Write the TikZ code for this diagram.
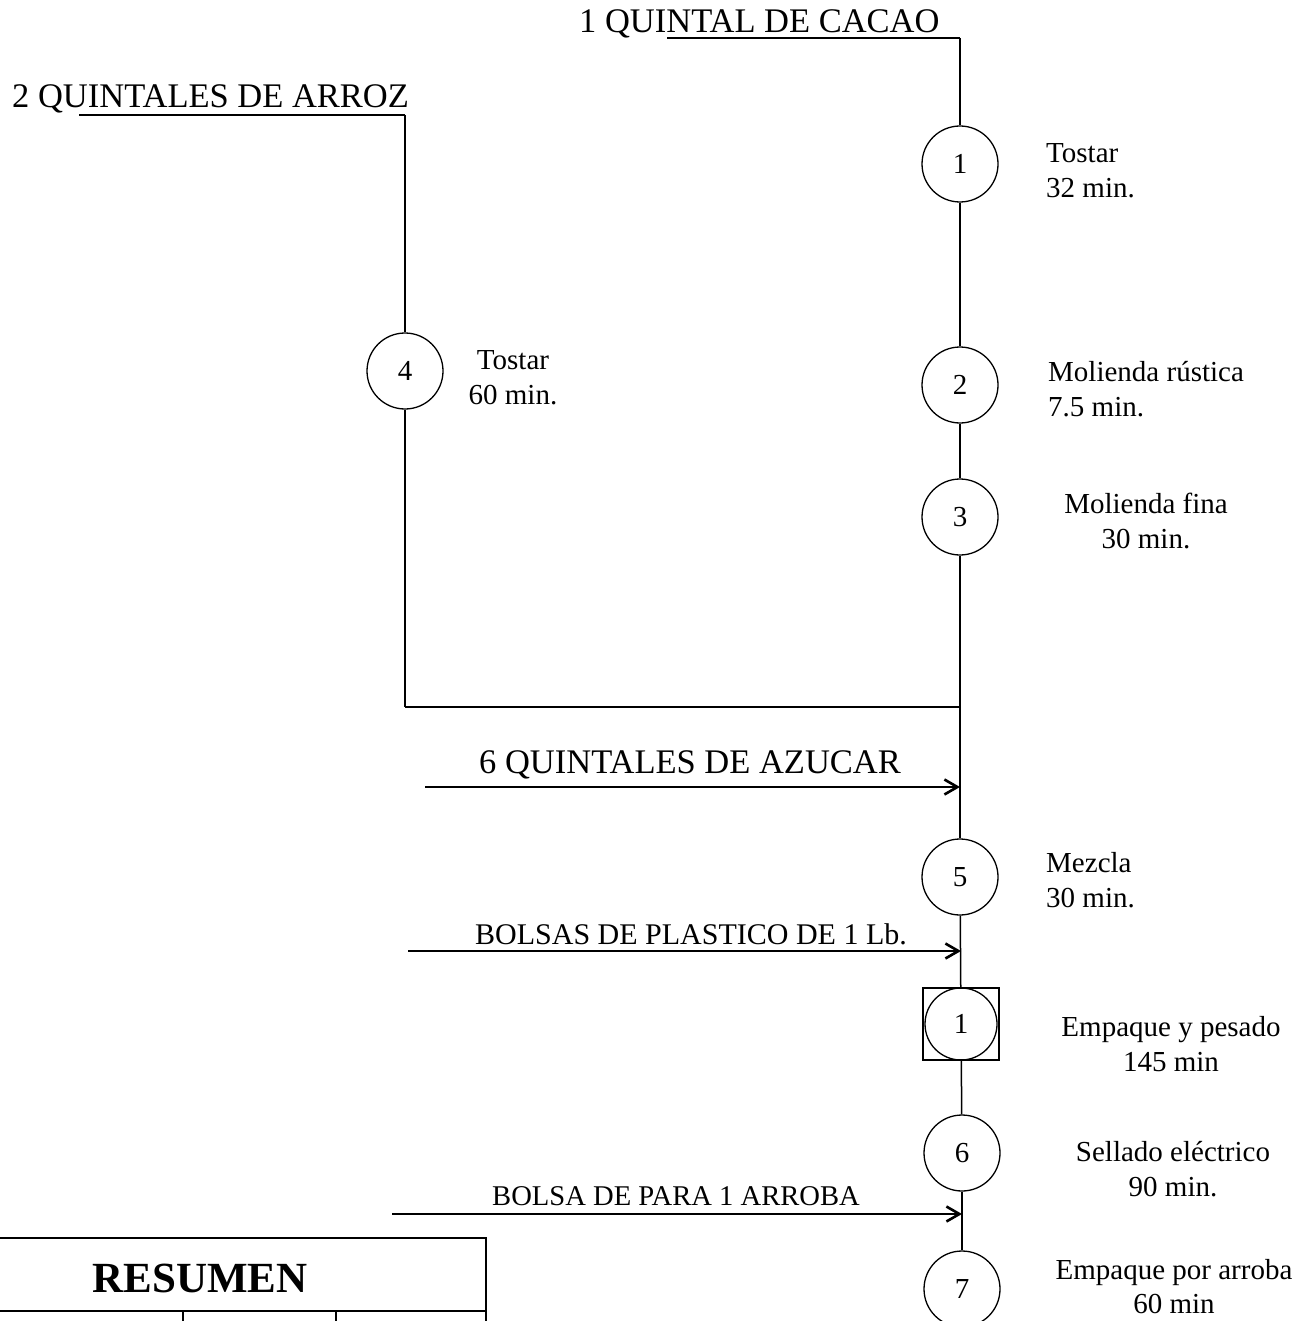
\documentclass[tikz,border=0pt]{standalone}
\usepackage{fontspec}
\setmainfont{Liberation Serif}
\usetikzlibrary{arrows.meta}
\begin{document}
\begin{tikzpicture}[x=1pt,y=-1pt,
  op/.style={circle,draw,line width=1.3pt,minimum size=76pt,inner sep=0pt,font=\fontsize{29}{29}\selectfont},
  flow/.style={line width=1.5pt},
  uline/.style={line width=1.9pt},
  feed/.style={line width=2.2pt,-{Straight Barb[length=13pt,width=15pt,line width=2.6pt]}},
  lbl/.style={inner sep=0pt,font=\fontsize{29}{35}\selectfont},
  head/.style={inner sep=0pt,font=\fontsize{34.5}{40}\selectfont},
  tbl/.style={line width=1.7pt}]
\useasboundingbox (0,0) rectangle (1309,1321);

% operations
\node[op] (c1) at (960,164) {1};
\node[op] (c2) at (960,385) {2};
\node[op] (c3) at (960,517) {3};
\node[op] (c4) at (405,371) {4};
\node[op] (c5) at (960,877) {5};
\node[draw,line width=1.3pt,minimum width=76pt,minimum height=72pt,inner sep=0pt] (sq) at (961,1024) {};
\node[op,minimum size=72pt] (i1) at (sq) {1};
\node[op] (c6) at (962,1153) {6};
\node[op] (c7) at (962,1289) {7};

% headings
\node[head,anchor=base west] (cacao) at (579,33) {1 QUINTAL DE CACAO};
\node[head,anchor=base west] (arroz) at (12,108) {2 QUINTALES DE ARROZ};
\node[head,anchor=base west] (azucar) at (479,773) {6 QUINTALES DE AZUCAR};
\node[inner sep=0pt,font=\fontsize{30}{35}\selectfont,anchor=base west] (bolsas) at (475,944) {BOLSAS DE PLASTICO DE 1 Lb.};
\node[inner sep=0pt,font=\fontsize{28.6}{35}\selectfont,anchor=base west] (bolsa) at (492,1205) {BOLSA DE PARA 1 ARROBA};

% free ends
\coordinate (cacaoU) at (667,38);
\coordinate (arrozU) at (79,115);
\coordinate (junc) at (960,707);
\coordinate (azS) at (425,787);
\coordinate (azE) at (960,787);
\coordinate (boS) at (408,951);
\coordinate (boE) at (961,951);
\coordinate (baS) at (392,1214);
\coordinate (baE) at (962,1214);

% connectors
\draw[uline] (cacaoU) -- (cacaoU -| c1);
\draw[flow] (cacaoU -| c1) -- (c1);
\draw[flow] (c1) -- (c2);
\draw[flow] (c2) -- (c3);
\draw[flow] (c3) -- (c5);
\draw[uline] (arrozU) -- (arrozU -| c4);
\draw[flow] (arrozU -| c4) -- (c4);
\draw[flow] (c4) -- (c4 |- junc);
\draw[uline] (c4 |- junc) -- (junc);
\draw[feed] (azS) -- (azE);
\draw[flow] (c5) -- (sq);
\draw[feed] (boS) -- (boE);
\draw[flow] (sq) -- (c6);
\draw[flow] (c6) -- (c7);
\draw[feed] (baS) -- (baE);

% labels
\node[lbl,anchor=north west,align=left] (l1) at (1046,143) {Tostar\\32 min.};
\node[lbl,anchor=north,align=center] (l4) at (513,350) {Tostar\\60 min.};
\node[lbl,anchor=north west,align=left] (l2) at (1048,361) {Molienda rústica\\7.5 min.};
\node[lbl,anchor=north,align=center] (l3) at (1146,493) {Molienda fina\\30 min.};
\node[lbl,anchor=north west,align=left] (l5) at (1046,852) {Mezcla\\30 min.};
\node[lbl,anchor=north,align=center] (lsq) at (1171,1016) {Empaque y pesado\\145 min};
\node[lbl,anchor=north,align=center] (l6) at (1173,1141) {Sellado eléctrico\\90 min.};
\node[lbl,anchor=north,align=center,font=\fontsize{29}{34}\selectfont] (l7) at (1174,1259) {Empaque por arroba\\60 min};

% summary table
\draw[tbl] (0,1238) -- (486,1238) -- (486,1321);
\draw[tbl] (0,1311) -- (486,1311);
\draw[tbl] (183,1311) -- (183,1321);
\draw[tbl] (336,1311) -- (336,1321);
\node[inner sep=0pt,font=\bfseries\fontsize{43}{43}\selectfont,anchor=base] (resumen) at (200,1292) {RESUMEN};
\end{tikzpicture}
\end{document}
